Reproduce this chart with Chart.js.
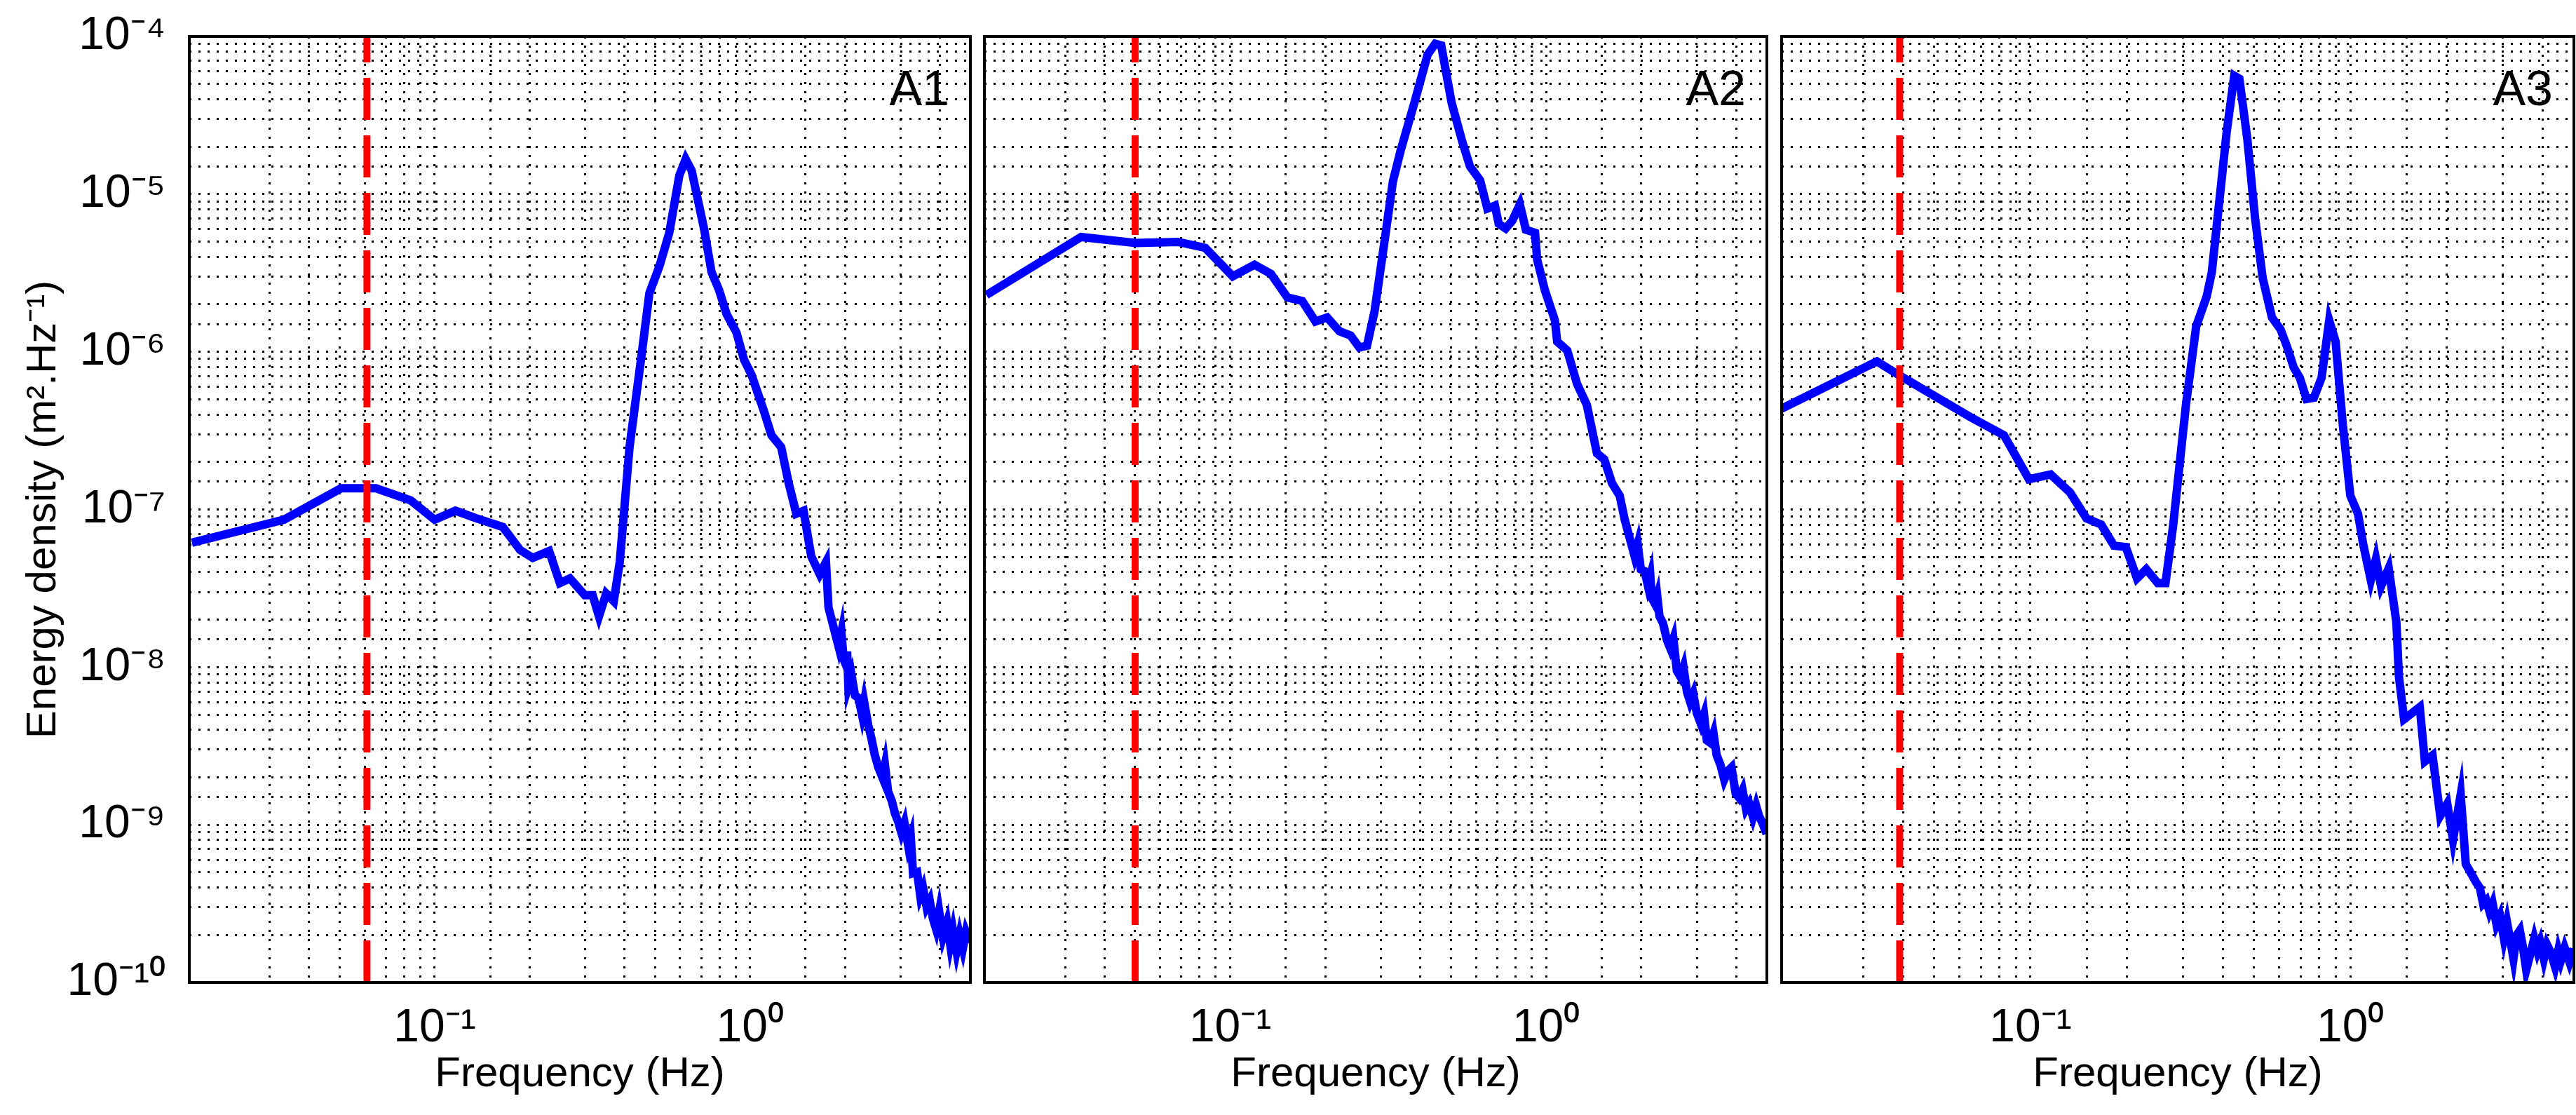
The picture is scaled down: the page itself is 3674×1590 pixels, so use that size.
<!DOCTYPE html>
<html><head><meta charset="utf-8">
<script src="https://cdn.jsdelivr.net/npm/chart.js@4"></script>
<style>html,body{margin:0;padding:0;background:#fff}canvas{position:absolute;left:0;top:0}</style>
</head><body>
<canvas id="c1" width="3674" height="1590"></canvas>
<canvas id="c2" width="3674" height="1590"></canvas>
<canvas id="c3" width="3674" height="1590"></canvas>
<script>
// log10(frequency Hz) and log10(energy density)
const logF1 = [-1.770,-1.478,-1.297,-1.186,-1.076,-1.0,-0.934,-0.871,-0.784,-0.729,-0.689,-0.637,-0.603,-0.571,-0.524,-0.499,-0.479,-0.456,-0.432,-0.413,-0.382,-0.342,-0.319,-0.287,-0.256,-0.224,-0.204,-0.185,-0.145,-0.122,-0.098,-0.074,-0.043,-0.019,0.005,0.044,0.068,0.099,0.123,0.147,0.170,0.194,0.221,0.241,0.249,
  0.281,0.290,0.297,0.304,0.308,0.312,0.322,0.333,0.344,0.355,0.362,0.375,0.385,0.395,0.407,0.420,0.428,0.438,0.450,0.460,0.470,0.480,0.490,0.502,0.510,0.517,0.530,0.540,0.549,0.560,0.570,0.580,0.590,0.600,0.612,0.625,0.635,0.644,0.655,0.665,0.675,0.685,0.698];
const logE1 = [-7.211,-7.065,-6.866,-6.866,-6.943,-7.065,-7.008,-7.054,-7.111,-7.257,-7.307,-7.264,-7.467,-7.437,-7.544,-7.544,-7.678,-7.533,-7.582,-7.333,-6.605,-5.992,-5.628,-5.456,-5.245,-4.881,-4.778,-4.851,-5.226,-5.494,-5.609,-5.762,-5.877,-6.050,-6.146,-6.375,-6.529,-6.605,-6.835,-7.027,-7.008,-7.295,-7.410,-7.333,-7.621,
  -7.870,-7.78,-7.95,-7.985,-7.90,-8.119,-8.05,-8.18,-8.195,-8.30,-8.22,-8.368,-8.45,-8.55,-8.636,-8.70,-8.62,-8.789,-8.85,-8.93,-8.981,-9.05,-8.99,-9.134,-9.08,-9.307,-9.30,-9.45,-9.402,-9.52,-9.48,-9.594,-9.66,-9.55,-9.709,-9.62,-9.76,-9.670,-9.80,-9.70,-9.785,-9.68,-9.747];
const logF2 = [-1.772,-1.472,-1.299,-1.165,-1.079,-0.992,-0.923,-0.871,-0.819,-0.772,-0.730,-0.693,-0.654,-0.619,-0.591,-0.567,-0.543,-0.509,-0.485,-0.461,-0.417,-0.375,-0.351,-0.332,-0.299,-0.265,-0.241,-0.209,-0.186,-0.162,-0.150,-0.128,-0.107,-0.083,-0.064,-0.035,-0.028,-0.004,0.028,0.035,0.067,0.098,0.129,0.161,0.184,0.209,0.233,0.249,
  0.280,0.290,0.300,0.312,0.322,0.330,0.335,0.345,0.352,0.359,0.370,0.383,0.393,0.403,0.414,0.425,0.435,0.446,0.456,0.466,0.477,0.490,0.500,0.509,0.520,0.530,0.540,0.552,0.564,0.575,0.587,0.600,0.611,0.622,0.633,0.643,0.655,0.665,0.674,0.685,0.698];
const logE2 = [-5.640,-5.272,-5.310,-5.303,-5.341,-5.521,-5.448,-5.506,-5.655,-5.678,-5.808,-5.782,-5.870,-5.897,-5.973,-5.962,-5.743,-5.264,-4.920,-4.728,-4.421,-4.115,-4.046,-4.057,-4.421,-4.670,-4.824,-4.912,-5.092,-5.073,-5.188,-5.218,-5.169,-5.065,-5.226,-5.245,-5.418,-5.609,-5.801,-5.935,-5.992,-6.203,-6.337,-6.644,-6.682,-6.835,-6.912,-7.065,
  -7.295,-7.22,-7.38,-7.391,-7.48,-7.42,-7.563,-7.60,-7.55,-7.678,-7.72,-7.831,-7.88,-7.82,-8.023,-8.06,-8.00,-8.157,-8.22,-8.17,-8.291,-8.36,-8.30,-8.464,-8.48,-8.42,-8.559,-8.62,-8.713,-8.66,-8.636,-8.80,-8.828,-8.78,-8.90,-8.866,-8.95,-8.88,-8.943,-8.99,-9.057];
const logF3 = [-1.782,-1.480,-1.413,-1.188,-1.083,-1.005,-0.937,-0.876,-0.825,-0.779,-0.739,-0.702,-0.667,-0.638,-0.602,-0.578,-0.554,-0.514,-0.482,-0.449,-0.433,-0.411,-0.387,-0.363,-0.347,-0.322,-0.298,-0.274,-0.245,-0.218,-0.197,-0.177,-0.158,-0.137,-0.114,-0.090,-0.066,-0.046,-0.024,0.000,0.024,0.040,0.064,0.080,0.096,0.120,0.144,0.152,0.168,0.193,0.217,0.233,0.257,0.281,0.303,0.321,0.345,0.361,
  0.393,0.405,0.415,0.425,0.435,0.445,0.457,0.468,0.480,0.490,0.498,0.510,0.520,0.530,0.540,0.550,0.562,0.575,0.585,0.594,0.605,0.615,0.626,0.640,0.650,0.658,0.670,0.685,0.698];
const logE3 = [-6.364,-6.061,-6.146,-6.414,-6.529,-6.808,-6.778,-6.893,-7.057,-7.096,-7.230,-7.238,-7.437,-7.379,-7.467,-7.467,-7.103,-6.337,-5.839,-5.648,-5.494,-5.073,-4.613,-4.249,-4.268,-4.651,-5.149,-5.533,-5.782,-5.858,-5.973,-6.100,-6.165,-6.299,-6.291,-6.165,-5.801,-5.935,-6.452,-6.912,-7.027,-7.218,-7.448,-7.314,-7.487,-7.372,-7.716,-8.061,-8.330,-8.291,-8.253,-8.598,-8.559,-8.943,-8.866,-9.096,-8.808,-9.249,
  -9.364,-9.40,-9.50,-9.479,-9.55,-9.50,-9.632,-9.58,-9.72,-9.62,-9.709,-9.85,-9.70,-9.670,-9.78,-9.92,-9.824,-9.72,-9.80,-9.747,-9.85,-9.76,-9.805,-9.90,-9.80,-9.862,-9.78,-9.87,-9.785];
const cutoffFreq = [0.061, 0.050, 0.039];
const panelLabels = ['A1','A2','A3'];
const xTitle = 'Frequency (Hz)';
const yTitle = 'Energy density (m\u00B2.Hz\u207B\u00B9)';
const fMin = 1/60, fMax = 5, eMin = 1e-10, eMax = 1e-4;

const supers = {'-':'\u207B','0':'\u2070','1':'\u00B9','2':'\u00B2','3':'\u00B3','4':'\u2074','5':'\u2075','6':'\u2076','7':'\u2077','8':'\u2078','9':'\u2079'};
function decLabel(v){const l=Math.log10(v);const r=Math.round(l);if(Math.abs(l-r)>1e-6)return '';return '10'+String(r).split('').map(c=>supers[c]).join('');}

const panels = [
 {id:'c1', L:270, R:1384, lf:logF1, le:logE1},
 {id:'c2', L:1404, R:2520, lf:logF2, le:logE2},
 {id:'c3', L:2541, R:3671, lf:logF3, le:logE3}];
const TOP=52, BOT=1401, W=3674, H=1590;
const FONT='"Liberation Sans", Arial, sans-serif';

panels.forEach((p,i)=>{
  const pts = p.lf.map((f,k)=>({x:Math.pow(10,f), y:Math.pow(10,p.le[k])}));
  const decor = {id:'decor'+i, afterDraw(c){
    const a=c.chartArea, ctx=c.ctx; ctx.save();
    ctx.strokeStyle='#000'; ctx.lineWidth=4; ctx.strokeRect(a.left,a.top,a.right-a.left,a.bottom-a.top);
    ctx.fillStyle='#000'; ctx.font='70px '+FONT; ctx.textAlign='right'; ctx.textBaseline='top';
    ctx.fillText(panelLabels[i], a.right-30, a.top+44);
    if(i===0){ctx.translate(62,(TOP+BOT)/2); ctx.rotate(-Math.PI/2); ctx.textAlign='center'; ctx.textBaseline='middle'; ctx.font='60px '+FONT; ctx.fillText(yTitle,0,0);}
    ctx.restore();}};
  const yw = i===0 ? p.L : 0;
  new Chart(document.getElementById(p.id), {
    type:'line',
    data:{datasets:[
      {data:[{x:cutoffFreq[i],y:eMin},{x:cutoffFreq[i],y:eMax}], borderColor:'#ff0000', borderWidth:10, borderDash:[60,22], pointRadius:0, order:0},
      {data:pts, borderColor:'#0000ff', borderWidth:12, pointRadius:0, tension:0, order:1}]},
    options:{responsive:false, devicePixelRatio:1, animation:false,
      layout:{padding:{left:p.L-yw, right:W-p.R, top:TOP, bottom:0}},
      plugins:{legend:{display:false}, tooltip:{enabled:false}},
      scales:{
        x:{type:'logarithmic', min:fMin, max:fMax,
           afterFit(s){s.height=H-BOT; s.paddingLeft=0; s.paddingRight=0;},
           grid:{color:'#000', lineWidth:3, drawTicks:false},
           border:{display:false, dash:[3,10]},
           ticks:{autoSkip:false, maxRotation:0, padding:26, color:'#000', font:{family:FONT,size:66}, callback:(v)=>decLabel(v)},
           title:{display:true, text:xTitle, color:'#000', font:{family:FONT,size:60}, padding:{top:0,bottom:22}}},
        y:{type:'logarithmic', min:eMin, max:eMax,
           afterFit(s){s.width=yw; s.paddingTop=0; s.paddingBottom=0;},
           grid:{color:'#000', lineWidth:3, drawTicks:false},
           border:{display:false, dash:[3,10]},
           ticks:{display:i===0, autoSkip:false, padding:34, color:'#000', font:{family:FONT,size:66}, callback:(v)=>decLabel(v)}}}},
    plugins:[decor]});
});
</script></body></html>
